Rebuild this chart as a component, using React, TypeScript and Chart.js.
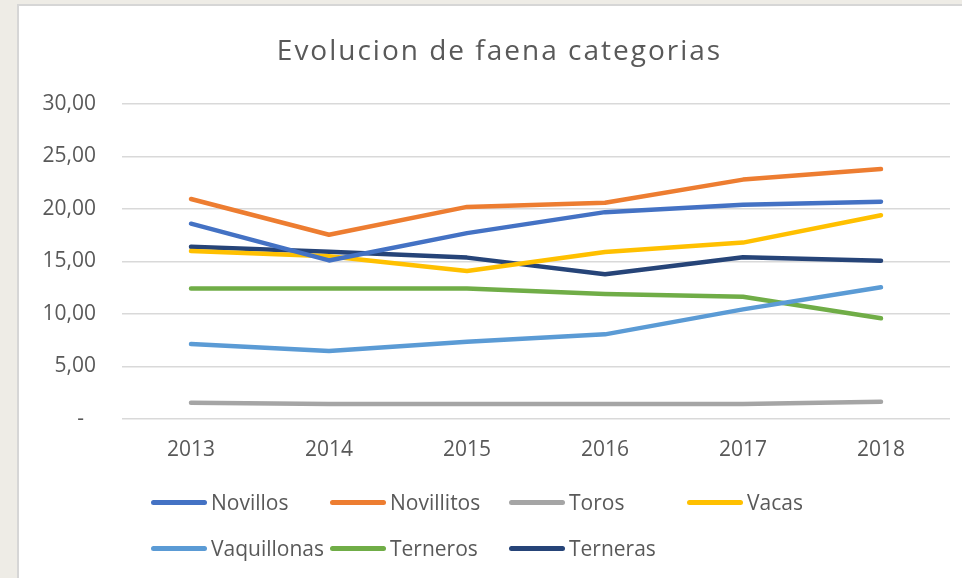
import React, { useEffect, useRef } from 'react';
import { Chart, registerables } from 'chart.js';

Chart.register(...registerables);

const titleText = 'Evolucion de faena categorias';
const years = ['2013', '2014', '2015', '2016', '2017', '2018'];
const novillos = [18.6, 15.1, 17.7, 19.7, 20.4, 20.7];
const novillitos = [20.95, 17.55, 20.2, 20.6, 22.8, 23.8];
const toros = [1.55, 1.43, 1.43, 1.43, 1.43, 1.65];
const vacas = [16.0, 15.5, 14.1, 15.9, 16.8, 19.4];
const vaquillonas = [7.14, 6.48, 7.36, 8.06, 10.44, 12.54];
const terneros = [12.44, 12.44, 12.44, 11.9, 11.65, 9.59];
const terneras = [16.4, 15.94, 15.37, 13.78, 15.4, 15.08];

const seriesNames = ['Novillos', 'Novillitos', 'Toros', 'Vacas', 'Vaquillonas', 'Terneros', 'Terneras'];
const seriesValues = [novillos, novillitos, toros, vacas, vaquillonas, terneros, terneras];
const seriesColors = ['#4472C4', '#ED7D31', '#A5A5A5', '#FFC000', '#5B9BD5', '#70AD47', '#264478'];

const yMin = 0;
const yMax = 30;
const yStep = 5;

const FONT = "'Open Sans', sans-serif";
const TEXT = '#595959';

// legend grid layout (page coords)
const legendCols = [151, 330, 509, 687];
const legendRows = [502, 548];

export default function App() {
  const ref = useRef<HTMLCanvasElement>(null);

  useEffect(() => {
    document.body.style.margin = '0';
    const canvas = ref.current!;
    const titleTweak = {
      id: 'titleTweak',
      afterLayout(chart: any) {
        const tb = chart.titleBlock;
        if (!tb) return;
        tb.left = tb.left + 30;
        if (!tb.__patched) {
          const orig = tb.draw.bind(tb);
          tb.draw = (area: any) => {
            const ctx = chart.ctx;
            ctx.save();
            (ctx as any).letterSpacing = '2px';
            orig(area);
            ctx.restore();
          };
          tb.__patched = true;
        }
      },
    };
    const chart = new Chart(canvas, {
      type: 'line',
      data: {
        labels: years,
        datasets: seriesNames.map((name, i) => ({
          label: name,
          data: seriesValues[i],
          borderColor: seriesColors[i],
          backgroundColor: seriesColors[i],
          borderWidth: 4.5,
          borderCapStyle: 'round',
          borderJoinStyle: 'round',
          pointRadius: 0,
          tension: 0,
          fill: false,
        })),
      },
      options: {
        responsive: false,
        animation: false,
        devicePixelRatio: 1,
        layout: { padding: { left: 0, right: 12, top: 29, bottom: 109 } },
        plugins: {
          legend: { display: false },
          tooltip: { enabled: false },
          title: {
            display: true,
            text: titleText,
            color: TEXT,
            font: { family: FONT, size: 28, weight: 'normal' },
            padding: { top: 0, bottom: 35.4 },
          },
        },
        scales: {
          x: {
            offset: true,
            grid: { display: false },
            border: { display: false },
            ticks: { color: TEXT, font: { family: FONT, size: 21 }, padding: 10, maxRotation: 0 },
            afterFit(s: any) { s.height = 50; },
          },
          y: {
            min: yMin,
            max: yMax,
            ticks: {
              stepSize: yStep,
              color: TEXT,
              font: { family: FONT, size: 21 },
              padding: 26,
              callback: (v: any) => (Number(v) === 0 ? '-\u2007' : Number(v).toFixed(2).replace('.', ',')),
            },
            grid: { color: '#D9D9D9', lineWidth: 1.5, drawTicks: false },
            border: { display: false },
            afterFit(s: any) { s.width = 103; },
          },
        },
      },
      plugins: [titleTweak],
    } as any);
    chart.draw();
    return () => chart.destroy();
  }, []);

  return (
    <div style={{ position: 'relative', width: 962, height: 578, background: '#EEECE6', overflow: 'hidden' }}>
      <div style={{ position: 'absolute', left: 17, top: 4, right: 0, bottom: 0, background: '#FFFFFF', borderTop: '2px solid #D6D6D6', borderLeft: '2px solid #D6D6D6' }} />
      <canvas ref={ref} width={943} height={572} style={{ position: 'absolute', left: 19, top: 6, width: 943, height: 572 }} />
      {seriesNames.map((name, i) => {
        const col = i < 4 ? i : i - 4;
        const row = i < 4 ? 0 : 1;
        return (
          <div key={name} style={{ position: 'absolute', left: legendCols[col], top: legendRows[row] - 15, height: 30, display: 'flex', alignItems: 'center', fontFamily: FONT, fontSize: 21, color: TEXT, whiteSpace: 'nowrap' }}>
            <span style={{ display: 'inline-block', width: 56, height: 5, borderRadius: 3, background: seriesColors[i], marginRight: 4 }} />
            <span>{name}</span>
          </div>
        );
      })}
    </div>
  );
}
